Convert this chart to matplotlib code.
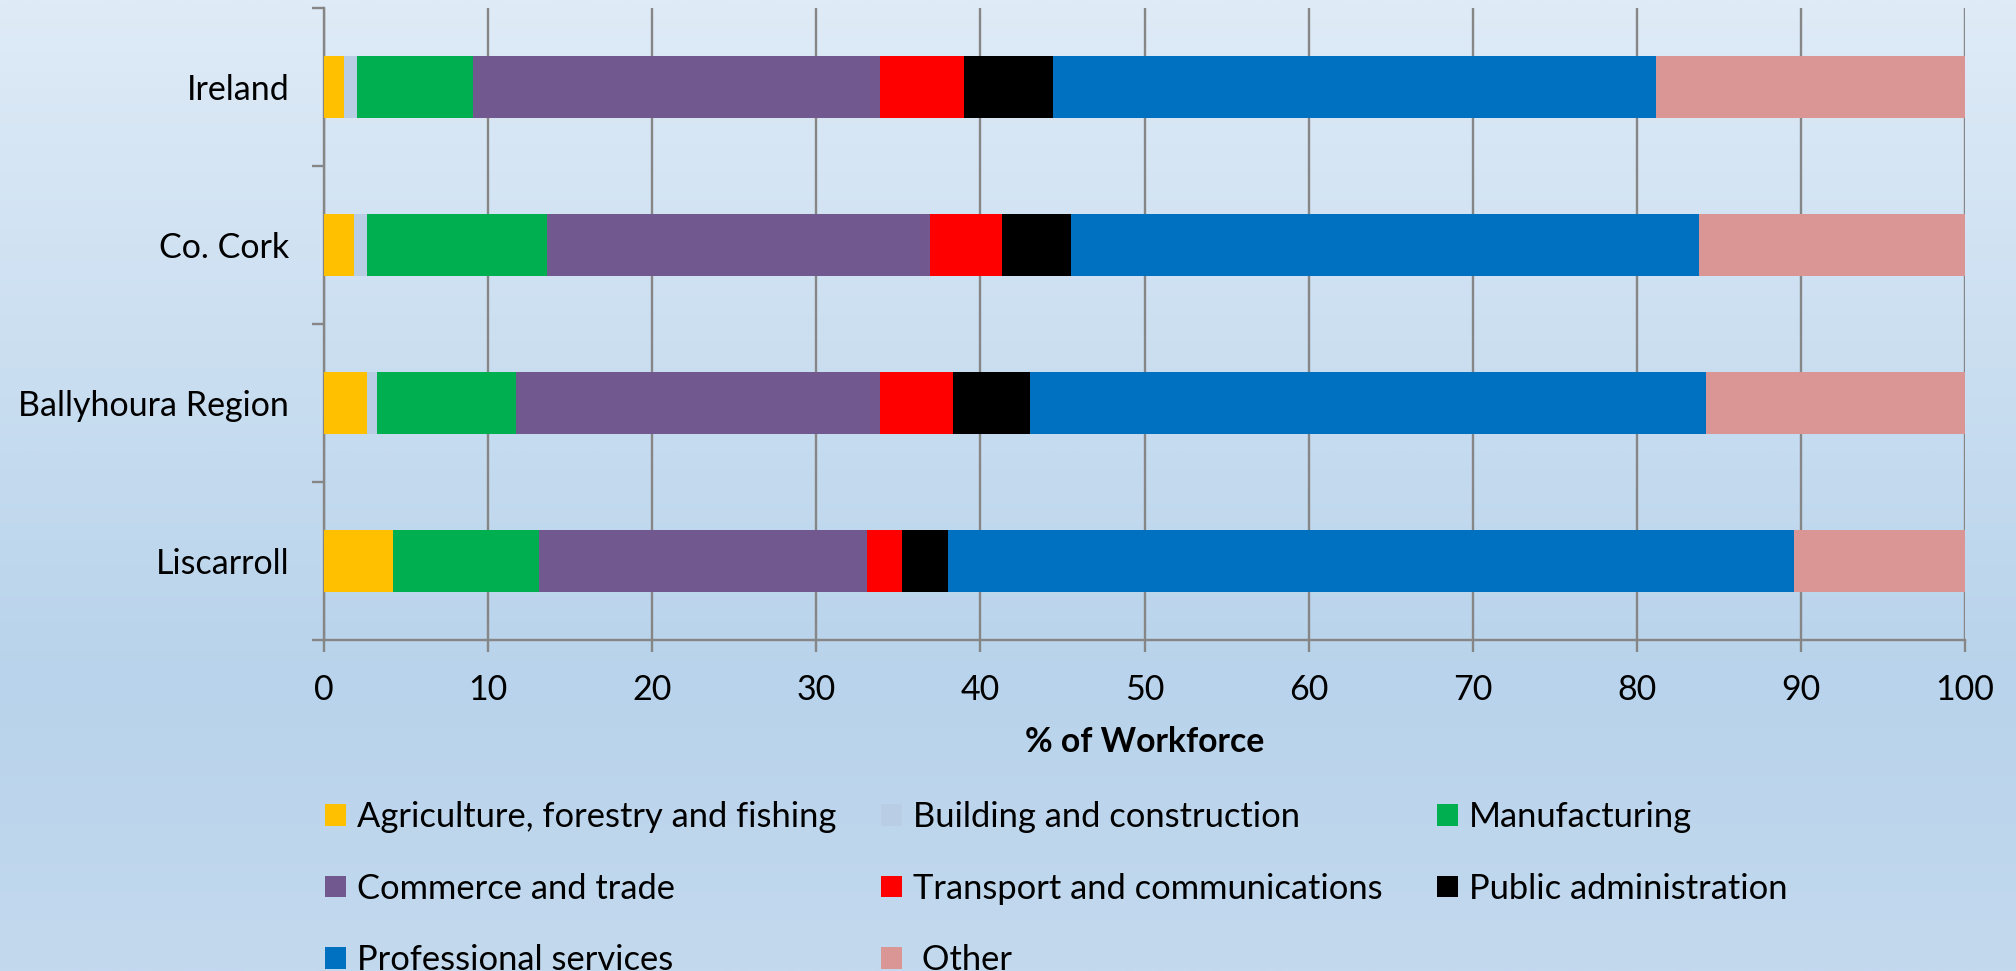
import numpy as np
import matplotlib
matplotlib.use("Agg")
import matplotlib.pyplot as plt
from matplotlib.colors import LinearSegmentedColormap

# ---- data ----
regions = ["Ireland", "Co. Cork", "Ballyhoura Region", "Liscarroll"]
sectors = ["Agriculture, forestry and fishing", "Building and construction",
           "Manufacturing", "Commerce and trade", "Transport and communications",
           "Public administration", "Professional services", " Other"]
agriculture = [1.2, 1.8, 2.6, 4.2]
building = [0.8, 0.8, 0.6, 0.0]
manufacturing = [7.1, 11.0, 8.5, 8.9]
commerce = [24.8, 23.3, 22.2, 20.0]
transport = [5.1, 4.4, 4.4, 2.1]
public_admin = [5.4, 4.2, 4.7, 2.8]
professional = [36.8, 38.3, 41.2, 51.6]
other = [18.8, 16.2, 15.8, 10.4]
xticks = [0, 10, 20, 30, 40, 50, 60, 70, 80, 90, 100]
xlabel = "% of Workforce"

series = [agriculture, building, manufacturing, commerce, transport,
          public_admin, professional, other]
colors = ["#FFC000", "#B9CDE5", "#00B050", "#71588F", "#FF0000",
          "#000000", "#0070C0", "#D99694"]

plt.rcParams['font.family'] = ['Lato', 'DejaVu Sans']
GRAY = "#868686"

fig = plt.figure(figsize=(20.16, 9.71), dpi=100)

# background gradient
bg = fig.add_axes([0, 0, 1, 1], zorder=-10)
cmap = LinearSegmentedColormap.from_list(
    "bg", [(0.0, "#dfebf7"), (0.70, "#b8d3eb"), (1.0, "#c3d9ee")])
grad = np.linspace(0, 1, 512).reshape(-1, 1)
bg.imshow(grad, aspect="auto", cmap=cmap, extent=[0, 1, 0, 1], origin="upper")
bg.axis("off")

ax = fig.add_axes([324/2016, 1-640/971, (1965-324)/2016, (640-8)/971])
ax.set_facecolor("none")

y = np.arange(len(regions))
left = np.zeros(len(regions))
handles = []
for vals, c, name in zip(series, colors, sectors):
    h = ax.barh(y, vals, left=left, height=0.397, color=c, label=name,
                edgecolor="none", zorder=3)
    handles.append(h)
    left = left + np.array(vals)

ax.set_xlim(0, 100)
ax.set_ylim(len(regions) - 0.5, -0.5)
ax.set_xticks(xticks)
ax.set_yticks(y)
ax.set_yticklabels(regions)
ax.set_yticks(np.arange(-0.5, len(regions)), minor=True)

ax.grid(axis="x", color=GRAY, linewidth=1.7, zorder=0)
ax.set_axisbelow(True)
for s in ["top", "right"]:
    ax.spines[s].set_visible(False)
for s in ["left", "bottom"]:
    ax.spines[s].set_color(GRAY)
    ax.spines[s].set_linewidth(1.7)

ax.tick_params(axis="x", which="major", direction="out", length=8.6, width=1.7,
               color=GRAY, labelsize=24.5, pad=16)
ax.tick_params(axis="y", which="major", length=0, labelsize=24.5, pad=25)
ax.tick_params(axis="y", which="minor", direction="out", length=8.6, width=1.7,
               color=GRAY)

ax.set_xlabel(xlabel, fontsize=24.3, fontweight="bold")
ax.xaxis.set_label_coords(0.5, (1-742/971 - (1-640/971)) / ((640-8)/971))
ax.xaxis.label.set_va("center")

# legend: three columns, filled row by row
col_x = [325, 881, 1437]
for ci, x0 in enumerate(col_x):
    idx = list(range(ci, len(sectors), 3))
    fig.legend([handles[i] for i in idx], [sectors[i] for i in idx],
               ncol=1, loc="upper left", bbox_to_anchor=(x0/2016, 1-801/971),
               frameon=False, fontsize=24.8, handlelength=0.6, handleheight=0.6,
               handletextpad=0.33, labelspacing=1.15,
               borderaxespad=0, borderpad=0)

fig.savefig("out.png", dpi=100)
